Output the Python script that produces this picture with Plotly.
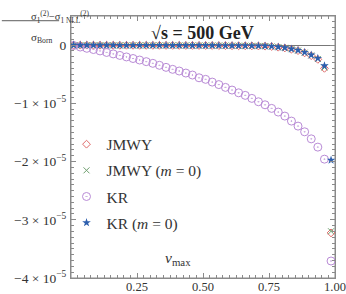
import plotly.graph_objects as go

SCALE = 1e-5

v_max = [0.010, 0.035, 0.060, 0.085, 0.110, 0.135, 0.160, 0.185, 0.210, 0.235,
         0.260, 0.285, 0.310, 0.335, 0.360, 0.385, 0.410, 0.435, 0.460, 0.485,
         0.510, 0.535, 0.560, 0.585, 0.610, 0.635, 0.660, 0.685, 0.710, 0.735,
         0.760, 0.785, 0.810, 0.835, 0.860, 0.885, 0.910, 0.935, 0.960, 0.985]

# values in units of 1e-5
jmwy = [-0.001, -0.001, -0.001, -0.001, -0.002, -0.002, -0.002, -0.003, -0.003, -0.003,
        -0.004, -0.004, -0.004, -0.004, -0.005, -0.005, -0.005, -0.006, -0.006, -0.006,
        -0.007, -0.007, -0.008, -0.009, -0.010, -0.011, -0.012, -0.013, -0.015, -0.018,
        -0.024, -0.036, -0.049, -0.071, -0.095, -0.133, -0.182, -0.245, -0.399, -3.225]
jmwy_m0 = [-0.001, -0.001, -0.001, -0.001, -0.002, -0.002, -0.002, -0.003, -0.003, -0.003,
           -0.004, -0.004, -0.004, -0.004, -0.005, -0.005, -0.005, -0.006, -0.006, -0.006,
           -0.007, -0.007, -0.008, -0.009, -0.010, -0.011, -0.012, -0.013, -0.014, -0.017,
           -0.023, -0.035, -0.047, -0.069, -0.093, -0.130, -0.178, -0.238, -0.385, -3.197]
kr = [-0.007, -0.033, -0.055, -0.076, -0.100, -0.126, -0.151, -0.177, -0.203, -0.230,
      -0.256, -0.284, -0.313, -0.347, -0.382, -0.416, -0.445, -0.480, -0.514, -0.561,
      -0.588, -0.635, -0.678, -0.726, -0.772, -0.819, -0.863, -0.915, -0.973, -1.025,
      -1.087, -1.150, -1.219, -1.305, -1.391, -1.489, -1.610, -1.752, -1.959, -3.708]
kr_m0 = [-0.001, -0.001, -0.001, -0.001, -0.002, -0.002, -0.002, -0.003, -0.003, -0.003,
         -0.004, -0.004, -0.004, -0.004, -0.005, -0.005, -0.005, -0.006, -0.006, -0.006,
         -0.007, -0.007, -0.008, -0.008, -0.009, -0.010, -0.011, -0.012, -0.013, -0.015,
         -0.021, -0.033, -0.045, -0.066, -0.089, -0.124, -0.170, -0.227, -0.354, -1.976]

series_names = ["JMWY", "JMWY (<i>m</i> = 0)", "KR", "KR (<i>m</i> = 0)"]
x_tickvals = [0.25, 0.50, 0.75, 1.00]
x_ticktext = ["0.25", "0.50", "0.75", "1.00"]
y_tickvals = [0, -1e-5, -2e-5, -3e-5, -4e-5]
y_ticktext = ["0", "−1 × 10<sup>−5</sup>", "−2 × 10<sup>−5</sup>",
              "−3 × 10<sup>−5</sup>", "−4 × 10<sup>−5</sup>"]

FONT = "Liberation Serif"
AX = "#8a8a8a"
TXT = "#333333"

styles = [
    dict(symbol="diamond-open", size=6, color="#e06a6a", line=dict(width=1, color="#e06a6a")),
    dict(symbol="x-thin-open", size=6, color="#6f9f6f", line=dict(width=1, color="#6f9f6f")),
    dict(symbol="circle-open-dot", size=8, color="#b98bd6", line=dict(width=1, color="#b98bd6")),
    dict(symbol="star", size=6.5, color="#2d5fae", line=dict(width=0)),
]

fig = go.Figure()
for i, (name, data) in enumerate(zip(series_names, [jmwy, jmwy_m0, kr, kr_m0])):
    fig.add_trace(go.Scatter(
        x=v_max, y=[d * SCALE for d in data], mode="markers", name=name,
        marker=styles[i], legendgroup=f"g{i}", showlegend=True,
    ))

fig.update_layout(
    width=346, height=294,
    margin=dict(l=71, r=11, t=16, b=16, autoexpand=False),
    paper_bgcolor="white", plot_bgcolor="white",
    font=dict(family=FONT, size=12, color=TXT),
    legend=dict(
        x=-0.017, y=0.574, xanchor="left", yanchor="top",
        bgcolor="rgba(0,0,0,0)", font=dict(family=FONT, size=15.5, color=TXT),
        traceorder="grouped", tracegroupgap=3, itemwidth=30,
    ),
)

fig.update_xaxes(
    range=[0, 1], tickmode="array", tickvals=x_tickvals, ticktext=x_ticktext,
    ticks="inside", ticklen=5, tickcolor=AX, showline=True, linecolor=AX, linewidth=1,
    mirror="allticks", showgrid=False, zeroline=False, automargin=False,
    tickfont=dict(family=FONT, size=12.5, color=TXT), ticklabelstandoff=-3,
    minor=dict(tickmode="linear", tick0=0, dtick=0.025, ticks="inside", ticklen=3,
               tickcolor=AX, showgrid=False),
)
fig.update_yaxes(
    range=[-4e-5, 0.5e-5], tickmode="array", tickvals=y_tickvals, ticktext=y_ticktext,
    ticks="inside", ticklen=5, tickcolor=AX, showline=True, linecolor=AX, linewidth=1,
    mirror="allticks", showgrid=False, zeroline=True, zerolinecolor="#777777", zerolinewidth=1,
    automargin=False,
    tickfont=dict(family=FONT, size=13.5, color=TXT), ticklabelstandoff=1,
    minor=dict(tickmode="linear", tick0=0, dtick=1e-6, ticks="inside", ticklen=3,
               tickcolor=AX, showgrid=False),
)

# frame around the plotting area
fig.add_shape(type="rect", xref="paper", yref="paper", x0=0, x1=1, y0=0, y1=1,
              line=dict(color=AX, width=1), layer="below")

# title inside plot
fig.add_annotation(text="<b>√s = 500 GeV</b>", xref="paper", yref="paper",
                   x=0.498, y=0.935, yanchor="middle", showarrow=False,
                   font=dict(family=FONT, size=18, color="#222222"))
# x-axis label
fig.add_annotation(text="<i>v</i><sub>max</sub>", xref="paper", yref="paper",
                   x=0.405, y=0.03, showarrow=False,
                   font=dict(family=FONT, size=15.5, color=TXT))
# y-axis label (fraction)
fig.add_annotation(text="σ<sub>1</sub><sup>(2)</sup>−σ<sub>1 NLL</sub><sup>(2)</sup>",
                   xref="paper", yref="paper", x=-0.158, y=1.035, showarrow=False,
                   font=dict(family=FONT, size=10.5, color=TXT))
fig.add_annotation(text="σ<sub>Born</sub>",
                   xref="paper", yref="paper", x=-0.158, y=0.95, showarrow=False,
                   font=dict(family=FONT, size=11, color=TXT))
fig.add_shape(type="line", xref="paper", yref="paper", x0=-0.262, x1=-0.045,
              y0=0.982, y1=0.982, line=dict(color=TXT, width=0.8))

fig.write_html("out.html", config={"displayModeBar": False},
               post_script="document.body.style.margin='0px';")
